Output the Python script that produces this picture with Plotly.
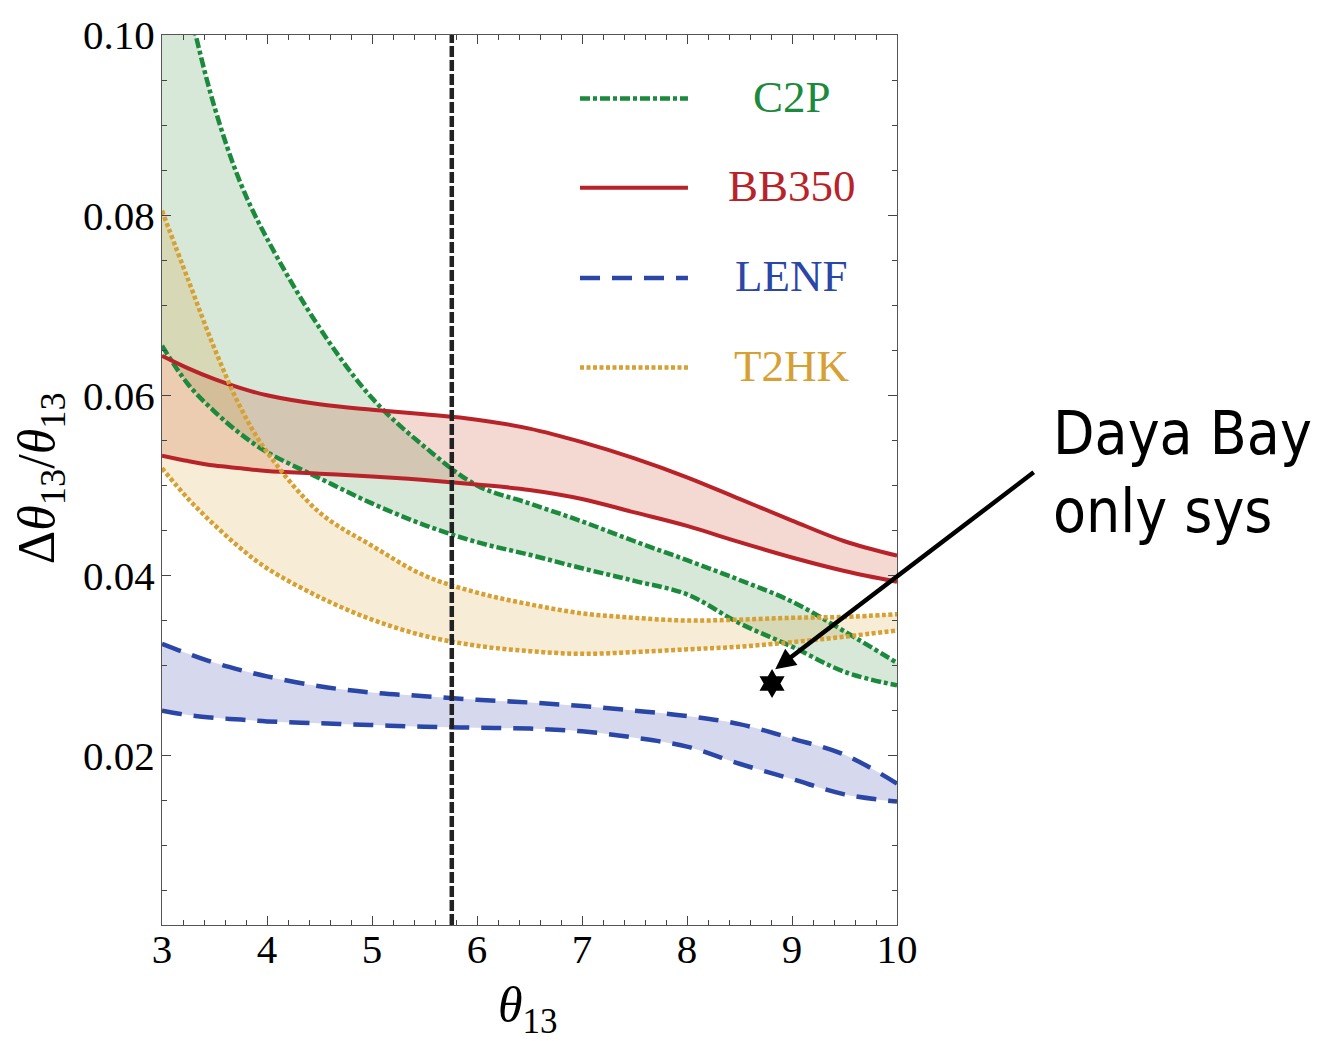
import plotly.graph_objects as go

# theta13 grid (degrees) shared by all bands
theta = [3, 3.25, 3.5, 3.75, 4, 4.5, 5, 5.5, 6, 6.5, 7, 7.5, 8, 8.5, 9, 9.5, 10]

# relative precision bands: (lower, upper)
c2p_lo = [0.0655, 0.0612, 0.0582, 0.0557, 0.0537, 0.0508, 0.0480, 0.0456, 0.0437,
          0.0423, 0.0408, 0.0394, 0.0379, 0.0347, 0.0321, 0.0293, 0.0278]
c2p_hi = [0.1170, 0.1035, 0.0920, 0.0835, 0.0774, 0.0675, 0.0597, 0.0543, 0.0500,
          0.0480, 0.0460, 0.0438, 0.0417, 0.0395, 0.0371, 0.0338, 0.0303]

bb_lo = [0.0533, 0.0527, 0.0522, 0.0519, 0.0516, 0.0513, 0.0510, 0.0506, 0.0501,
         0.0495, 0.0485, 0.0470, 0.0455, 0.0437, 0.0420, 0.0405, 0.0393]
bb_hi = [0.0644, 0.0630, 0.0618, 0.0608, 0.0600, 0.0590, 0.0584, 0.0579, 0.0573,
         0.0563, 0.0548, 0.0530, 0.0509, 0.0485, 0.0461, 0.0438, 0.0422]

lenf_lo = [0.0250, 0.0245, 0.0242, 0.0240, 0.0238, 0.0236, 0.0234, 0.0232, 0.0231,
           0.0230, 0.0227, 0.0220, 0.0210, 0.0191, 0.0174, 0.0157, 0.0149]
lenf_hi = [0.0324, 0.0313, 0.0303, 0.0295, 0.0288, 0.0277, 0.0270, 0.0266, 0.0262,
           0.0259, 0.0255, 0.0250, 0.0244, 0.0235, 0.0219, 0.0201, 0.0169]

t2hk_lo = [0.0519, 0.0485, 0.0456, 0.0430, 0.0408, 0.0376, 0.0351, 0.0333, 0.0322,
           0.0316, 0.0313, 0.0315, 0.0318, 0.0321, 0.0326, 0.0332, 0.0339]
t2hk_hi = [0.0805, 0.0728, 0.0652, 0.0586, 0.0537, 0.0470, 0.0433, 0.0400, 0.0381,
           0.0368, 0.0358, 0.0353, 0.0350, 0.0351, 0.0353, 0.0354, 0.0357]

# Daya Bay reference
daya_theta = 5.76
daya_point_x = [8.81]
daya_point_y = [0.0280]

labels = ["C2P", "BB350", "LENF", "T2HK"]
bands = [(c2p_lo, c2p_hi), (bb_lo, bb_hi), (lenf_lo, lenf_hi), (t2hk_lo, t2hk_hi)]
line_colors = ["#1b8a3c", "#b8232a", "#2a46a6", "#d6a032"]
fill_colors = ["rgba(40,130,50,0.19)", "rgba(200,80,50,0.22)",
               "rgba(60,70,170,0.21)", "rgba(214,160,50,0.20)"]
dashes = ["10px,3px,4px,3px", "solid", "20px,12px", "4px,2.5px"]
widths = [4.5, 4, 4.5, 4.5]

fig = go.Figure()

# shaded bands first
for (lo, hi), fc in zip(bands, fill_colors):
    fig.add_trace(go.Scatter(x=theta, y=lo, mode="lines", line=dict(width=0, shape="spline"),
                             showlegend=False, hoverinfo="skip"))
    fig.add_trace(go.Scatter(x=theta, y=hi, mode="lines", line=dict(width=0, shape="spline"),
                             fill="tonexty", fillcolor=fc, showlegend=False, hoverinfo="skip"))

# band boundaries
for (lo, hi), lc, d, w, name in zip(bands, line_colors, dashes, widths, labels):
    for curve in (lo, hi):
        fig.add_trace(go.Scatter(x=theta, y=curve, mode="lines", name=name,
                                 line=dict(color=lc, width=w, dash=d, shape="spline"),
                                 showlegend=False))

# Daya Bay point
fig.add_trace(go.Scatter(x=daya_point_x, y=daya_point_y, mode="markers",
                         marker=dict(symbol="hexagram", size=22, color="black"),
                         showlegend=False))

# vertical Daya Bay line
fig.add_shape(type="line", xref="x", yref="paper", x0=daya_theta, x1=daya_theta, y0=0, y1=1,
              line=dict(color="#222222", width=4.5, dash="11px,3px"))

# in-plot key
key_y = [0.9287, 0.8283, 0.7269, 0.6265]
for yk, lc, d, w, name in zip(key_y, line_colors, dashes, widths, labels):
    fig.add_shape(type="line", xref="paper", yref="paper", x0=0.5687, x1=0.7156, y0=yk, y1=yk,
                  line=dict(color=lc, width=w, dash=d))
    fig.add_annotation(xref="paper", yref="paper", x=0.857, y=yk + 0.002, text=name,
                       showarrow=False, xanchor="center", yanchor="middle",
                       font=dict(family="Liberation Serif", size=45, color=lc))

# arrow and note
fig.add_annotation(x=8.84, y=0.0296, xref="x", yref="y", ax=260, ay=-198, text="",
                   showarrow=True, arrowhead=2, arrowsize=0.9, arrowwidth=4.5, arrowcolor="black")
fig.add_annotation(xref="paper", yref="paper", x=1.21, y=0.509, text="Daya Bay<br>only sys",
                   showarrow=False, xanchor="left", yanchor="middle", align="left",
                   font=dict(family="DejaVu Sans Condensed, DejaVu Sans", size=60, color="black"))

# axis titles
fig.add_annotation(xref="paper", yref="paper", x=-0.166, y=0.502, textangle=-90,
                   text="Δ<i>θ</i><sub>13</sub>/<i>θ</i><sub>13</sub>", showarrow=False,
                   xanchor="center", yanchor="middle",
                   font=dict(family="Liberation Serif", size=52, color="black"))
fig.add_annotation(xref="paper", yref="paper", x=0.498, y=-0.094,
                   text="<i>θ</i><sub>13</sub>", showarrow=False,
                   xanchor="center", yanchor="middle",
                   font=dict(family="Liberation Serif", size=50, color="black"))

axis_common = dict(showgrid=False, zeroline=False, showline=True, linecolor="#555555",
                   linewidth=1.2, mirror="ticks", ticks="inside", ticklen=9, tickwidth=1.2,
                   tickcolor="#444444",
                   tickfont=dict(family="Liberation Serif", size=41, color="black"))

fig.update_xaxes(range=[3, 10], tickmode="linear", tick0=3, dtick=1, ticklabelstandoff=-12,
                 minor=dict(ticks="inside", dtick=0.2, tick0=3, ticklen=5, tickcolor="#444444"),
                 **axis_common)
fig.update_yaxes(range=[0.0012, 0.1], tickmode="linear", tick0=0, dtick=0.02, tickformat=".2f",
                 ticklabelstandoff=-2,
                 minor=dict(ticks="inside", dtick=0.005, tick0=0, ticklen=5, tickcolor="#444444"),
                 **axis_common)

fig.update_layout(width=1333, height=1041, margin=dict(l=162, r=436, t=28, b=116),
                  paper_bgcolor="white", plot_bgcolor="white", showlegend=False)

fig.write_html("out.html")
